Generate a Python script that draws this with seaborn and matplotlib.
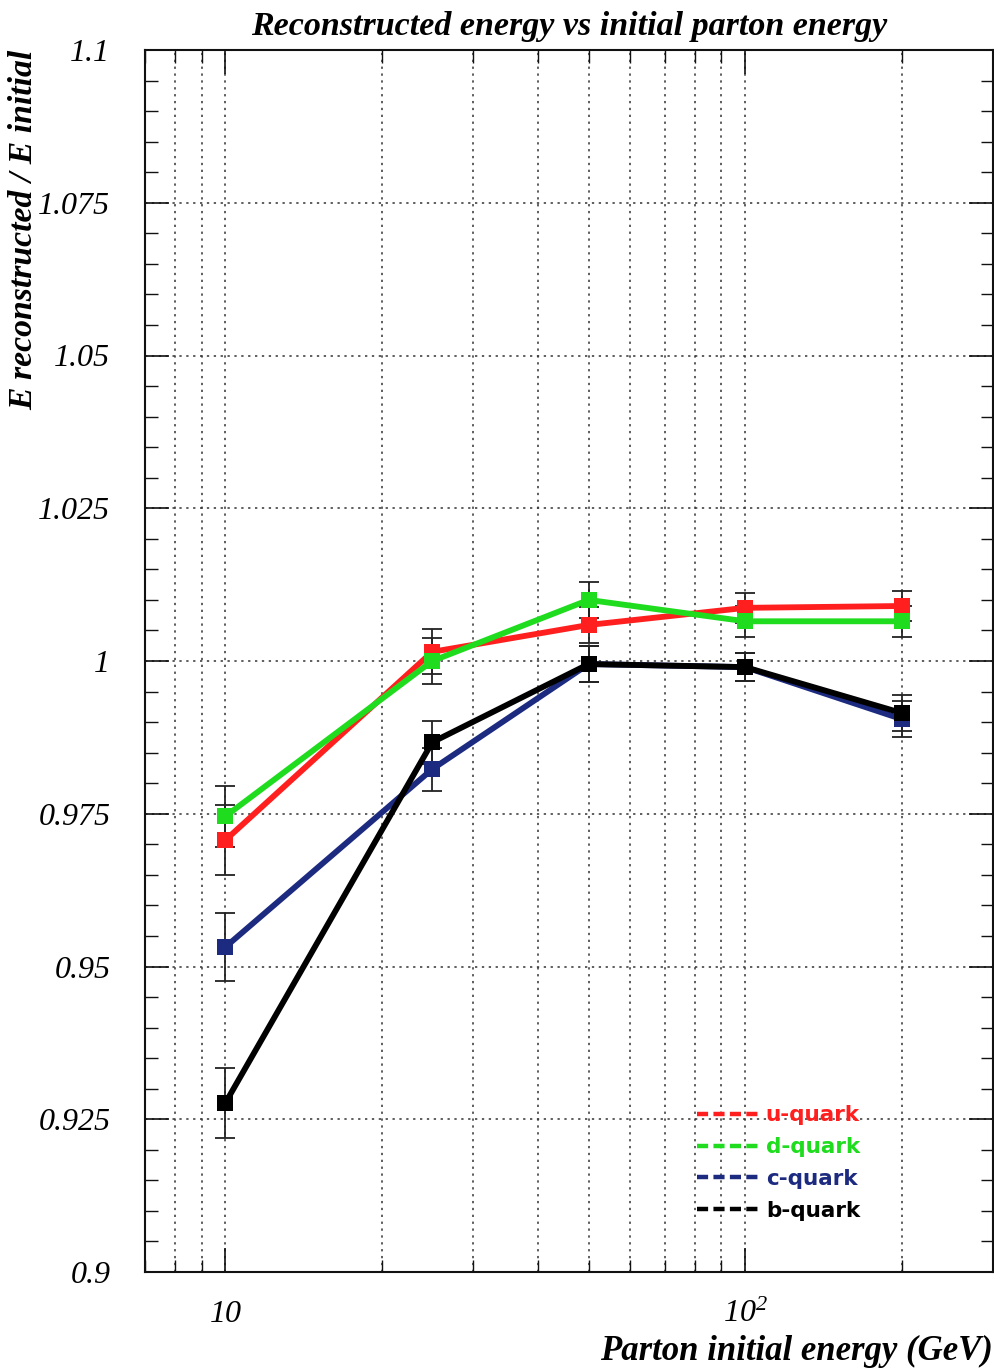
import numpy as np
import pandas as pd
import matplotlib
matplotlib.use("Agg")
import matplotlib.pyplot as plt
from matplotlib.ticker import MultipleLocator, NullFormatter, FixedLocator
from matplotlib.lines import Line2D
import seaborn as sns

# ---- data ----
energies = [10, 25, 50, 100, 200]
quarks = ["u-quark", "d-quark", "c-quark", "b-quark"]
u_vals = [0.9707, 1.0015, 1.0059, 1.0087, 1.0090]
d_vals = [0.9746, 1.0000, 1.0100, 1.0065, 1.0065]
c_vals = [0.9532, 0.9823, 0.9995, 0.9990, 0.9905]
b_vals = [0.9277, 0.9867, 0.9995, 0.9990, 0.9915]
u_err = [0.0057, 0.0037, 0.0030, 0.0025, 0.0025]
d_err = [0.0050, 0.0038, 0.0030, 0.0025, 0.0025]
c_err = [0.0055, 0.0035, 0.0030, 0.0023, 0.0030]
b_err = [0.0057, 0.0035, 0.0030, 0.0023, 0.0030]
y_tick_vals = [0.9, 0.925, 0.95, 0.975, 1.0, 1.025, 1.05, 1.075, 1.1]
y_tick_labels = ["0.9", "0.925", "0.95", "0.975", "1", "1.025", "1.05", "1.075", "1.1"]
x_tick_vals = [10, 100]
x_tick_labels = ["10", r"$\mathregular{10^{2}}$"]

colors = {"u-quark": "#ff1f1f", "d-quark": "#1fdc1f", "c-quark": "#1c2a80", "b-quark": "#000000"}

vals = {"u-quark": u_vals, "d-quark": d_vals, "c-quark": c_vals, "b-quark": b_vals}
errs = {"u-quark": u_err, "d-quark": d_err, "c-quark": c_err, "b-quark": b_err}

rows = []
for q in quarks:
    for e, v, er in zip(energies, vals[q], errs[q]):
        rows.append({"E": e, "ratio": v, "err": er, "quark": q})
df = pd.DataFrame(rows)

sns.set_style("ticks")
plt.rcParams["font.family"] = ["Liberation Serif", "DejaVu Serif"]
plt.rcParams["mathtext.fontset"] = "custom"
plt.rcParams["mathtext.rm"] = "Liberation Serif:italic"
plt.rcParams["mathtext.it"] = "Liberation Serif:italic"
for k in ["text.color", "axes.labelcolor", "xtick.color", "ytick.color"]:
    plt.rcParams[k] = "black"

fig = plt.figure(figsize=(9.95, 13.72), dpi=100)
ax = fig.add_axes([145/995, 1 - 1272/1372, (993-145)/995, (1272-50)/1372])

ax.set_xscale("log")
ax.set_xlim(7, 300)
ax.set_ylim(0.9, 1.1)

# grid
grid_kw = dict(color="#333333", linestyle=(0, (1.5, 3.0)), linewidth=1.1)
ax.grid(True, which="major", axis="both", **grid_kw)
ax.grid(True, which="minor", axis="x", **grid_kw)
ax.set_axisbelow(True)

# error bars
for q in quarks:
    sub = df[df.quark == q]
    ax.errorbar(sub.E, sub.ratio, yerr=sub.err, fmt="none", ecolor="#222222",
                elinewidth=1.3, capsize=7, capthick=1.3, zorder=3)

sns.lineplot(data=df, x="E", y="ratio", hue="quark", hue_order=quarks,
             palette=colors, marker="s", markersize=11, markeredgewidth=0,
             linewidth=4.2, legend=False, errorbar=None, ax=ax, zorder=4)

# ticks
ax.yaxis.set_major_locator(FixedLocator(y_tick_vals))
ax.set_yticklabels(y_tick_labels)
ax.yaxis.set_minor_locator(MultipleLocator(0.005))
ax.set_xticks(x_tick_vals)
ax.set_xticklabels(x_tick_labels)
ax.xaxis.set_minor_formatter(NullFormatter())
ax.tick_params(which="both", direction="in", top=True, right=True, color="#111111")
ax.tick_params(which="major", length=17, width=1.2)
ax.tick_params(which="minor", length=9, width=1.0)
ax.tick_params(axis="y", which="major", labelsize=23, pad=25)
ax.tick_params(axis="x", which="major", labelsize=23, pad=20)
for lab in ax.get_xticklabels() + ax.get_yticklabels():
    lab.set_fontstyle("italic")

for s in ax.spines.values():
    s.set_linewidth(1.5)
    s.set_color("#111111")

ax.set_title("Reconstructed energy vs initial parton energy", fontsize=24.5,
             fontstyle="italic", fontweight="bold", pad=11)
ax.set_xlabel("Parton initial energy (GeV)", fontsize=25, fontstyle="italic",
              fontweight="bold", loc="right", labelpad=4)
ax.set_ylabel("E reconstructed / E initial", fontsize=24.3, fontstyle="italic",
              fontweight="bold", loc="top")
ax.yaxis.set_label_coords(-0.125, 1.0)

# legend
handles = [Line2D([0], [0], color=colors[q], linestyle=(0, (2.5, 1.2)), linewidth=3.2)
           for q in quarks]
leg = ax.legend(handles, quarks, loc="lower left", bbox_to_anchor=(0.628, 0.026),
                frameon=False, handlelength=2.9, handletextpad=0.3,
                labelspacing=0.55, prop={"family": "DejaVu Sans", "size": 15.5,
                                          "weight": "bold"})
for t, q in zip(leg.get_texts(), quarks):
    t.set_color(colors[q])

fig.savefig("out.png", dpi=100)
